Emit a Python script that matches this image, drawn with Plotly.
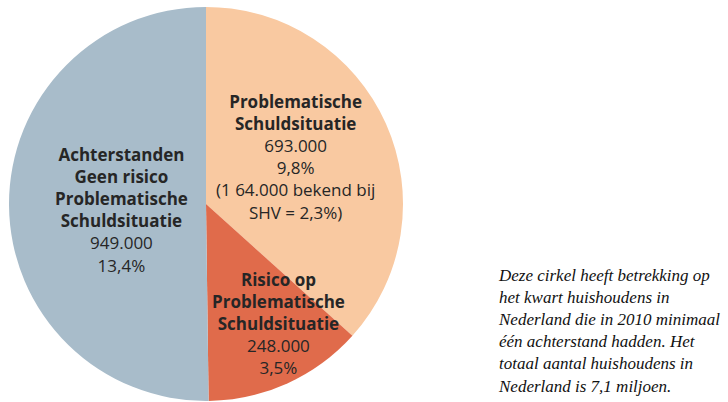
import plotly.graph_objects as go

W, H = 728, 402

categories = ["Problematische<br>Schuldsituatie",
              "Risico op<br>Problematische<br>Schuldsituatie",
              "Achterstanden<br>Geen risico<br>Problematische<br>Schuldsituatie"]
values = [693000, 248000, 949000]
percentages = ["9,8%", "3,5%", "13,4%"]
extra = ["(1 64.000 bekend bij<br>SHV = 2,3%)", "", ""]
colors = ["#f9c9a1", "#e06b4b", "#a8bcca"]

note = ("Deze cirkel heeft betrekking op<br>het kwart huishoudens in<br>"
        "Nederland die in 2010 minimaal<br>één achterstand hadden. Het<br>"
        "totaal aantal huishoudens in<br>Nederland is 7,1 miljoen.")

def fmt(v):
    return f"{v:,}".replace(",", ".")

fig = go.Figure(go.Pie(
    labels=[c.replace("<br>", " ") for c in categories],
    values=values,
    sort=False,
    direction="clockwise",
    rotation=0,
    marker=dict(colors=colors, line=dict(width=0)),
    textinfo="none",
    hoverinfo="label+value",
    domain=dict(x=[9 / W, 403 / W], y=[1 / H, 395 / H]),
    showlegend=False,
))

# label centres (pixels)
label_pos = [(295, 157), (278, 323), (121, 210)]
annotations = []
for cat, v, p, ex, (px, py) in zip(categories, values, percentages, extra, label_pos):
    txt = f"<b>{cat}</b><br>{fmt(v)}<br>{p}"
    if ex:
        txt += "<br>" + ex
    annotations.append(dict(
        x=px / W, y=1 - py / H, xref="paper", yref="paper",
        text=txt, showarrow=False, xanchor="center", yanchor="middle",
        align="center", font=dict(family="Open Sans", size=17, color="#262626"),
    ))

annotations.append(dict(
    x=496 / W, y=1 - 331 / H, xref="paper", yref="paper",
    text=f"<i>{note}</i>", showarrow=False, xanchor="left", yanchor="middle",
    align="left", font=dict(family="Liberation Serif", size=17, color="#111111"),
))

fig.update_layout(
    width=W, height=H,
    margin=dict(l=0, r=0, t=0, b=0),
    paper_bgcolor="white", plot_bgcolor="white",
    annotations=annotations,
)

fig.write_html("out.html", config={"displayModeBar": False},
               post_script="document.body.style.margin='0';")
